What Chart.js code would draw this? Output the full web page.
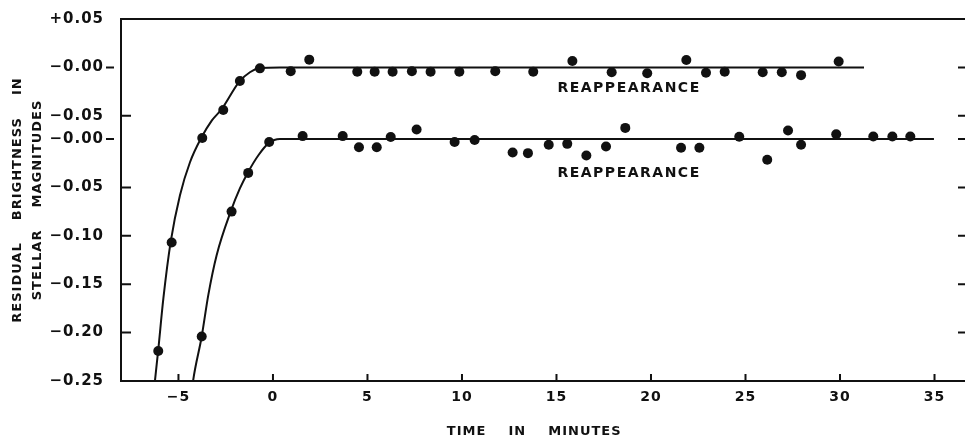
<!DOCTYPE html>
<html>
<head>
<meta charset="utf-8">
<script src="https://cdn.jsdelivr.net/npm/chart.js@4.4.1/dist/chart.umd.min.js"></script>
<style>
  body { margin: 0; background: #fff; }
</style>
</head>
<body>
<canvas id="myChart" width="965" height="438"></canvas>
<script>
// upper run (own scale, drawn shifted up by upperShift)
const upperTime = [-6.07, -5.36, -3.74, -2.63, -1.75, -0.69, 0.94, 1.92, 4.46, 5.38, 6.33, 7.35, 8.34, 9.86, 11.76, 13.77, 15.84, 17.92, 19.80, 21.87, 22.91, 23.90, 25.91, 26.92, 27.94, 29.93];
const upperMag = [-0.293, -0.181, -0.073, -0.044, -0.014, -0.001, -0.004, 0.008, -0.0045, -0.0045, -0.0045, -0.004, -0.0045, -0.0045, -0.004, -0.0045, 0.0066, -0.005, -0.006, 0.0076, -0.0055, -0.0045, -0.005, -0.005, -0.008, 0.006];
const upperFitTime = [-6.35, -6.24, -6.07, -5.80, -5.41, -4.92, -4.39, -3.77, -3.24, -2.71, -1.78, -1.22, -0.69, 0.37, 31.27];
const upperFitMag = [-0.345, -0.323, -0.292, -0.239, -0.180, -0.132, -0.098, -0.072, -0.055, -0.043, -0.0147, -0.005, -0.0006, 0, 0];
const upperShift = 0.074;

// lower run
const lowerTime = [-3.77, -2.19, -1.31, -0.20, 1.57, 3.69, 4.55, 5.49, 6.23, 7.60, 9.61, 10.67, 12.68, 13.49, 14.59, 15.57, 16.58, 17.62, 18.64, 21.59, 22.56, 24.67, 26.15, 27.25, 27.94, 29.80, 31.76, 32.77, 33.72];
const lowerMag = [-0.204, -0.075, -0.035, -0.003, 0.003, 0.003, -0.0085, -0.0085, 0.002, 0.0098, -0.003, -0.001, -0.014, -0.0146, -0.006, -0.005, -0.017, -0.0077, 0.0115, -0.009, -0.009, 0.0023, -0.0214, 0.0088, -0.006, 0.005, 0.0026, 0.0026, 0.0026];
const lowerFitTime = [-4.35, -4.22, -3.77, -3.42, -2.98, -2.22, -1.75, -1.31, -0.78, -0.21, 0.37, 34.97];
const lowerFitMag = [-0.27, -0.249, -0.204, -0.161, -0.120, -0.074, -0.051, -0.034, -0.017, -0.004, 0, 0];

const yTickValues = [0.124, 0.074, 0.024, 0, -0.05, -0.10, -0.15, -0.20, -0.25];
const yTickLabels = ['+0.05', '\u22120.00', '\u22120.05', '\u22120.00', '\u22120.05', '\u22120.10', '\u22120.15', '\u22120.20', '\u22120.25'];
const yDashTicks = [0.074, 0];
const xTickValues = [-5, 0, 5, 10, 15, 20, 25, 30, 35];
const xTickLabels = ['\u22125', '0', '5', '10', '15', '20', '25', '30', '35'];
const seriesLabel = 'REAPPEARANCE';

const ink = '#111';
const font = 'DejaVu Sans';

const pts = (xs, ys, shift) => xs.map((x, i) => ({x: x, y: ys[i] + shift}));

const frame = {
  id: 'frame',
  beforeDraw(chart) {
    chart.ctx.letterSpacing = '1px';
  },
  afterDatasetsDraw(chart) {
    const {ctx, chartArea: a, scales: {x, y}} = chart;
    ctx.save();
    ctx.strokeStyle = ink;
    ctx.lineWidth = 2;
    ctx.beginPath();
    ctx.moveTo(a.left, a.top);
    ctx.lineTo(a.right + 2, a.top);
    y.ticks.forEach(t => {
      const py = y.getPixelForValue(t.value);
      if (yDashTicks.includes(t.value)) {
        ctx.moveTo(a.left - 15, py); ctx.lineTo(a.left - 7, py);
      } else if (t.value > -0.25 && t.value < 0.12) {
        ctx.moveTo(a.left, py); ctx.lineTo(a.left + 10, py);
      }
      ctx.moveTo(a.right + 1, py); ctx.lineTo(a.right - 6, py);
    });
    x.ticks.forEach(t => {
      const px = x.getPixelForValue(t.value);
      ctx.moveTo(px, a.bottom); ctx.lineTo(px, a.bottom - 7);
    });
    ctx.stroke();

    ctx.fillStyle = ink;
    ctx.font = 'bold 14px ' + font;
    ctx.letterSpacing = '1.5px';
    ctx.textAlign = 'center';
    ctx.textBaseline = 'middle';
    ctx.fillText(seriesLabel, x.getPixelForValue(18.84), y.getPixelForValue(upperShift - 0.022));
    ctx.fillText(seriesLabel, x.getPixelForValue(18.84), y.getPixelForValue(-0.0356));
    ctx.restore();
  }
};

const chart1 = document.getElementById('myChart').getContext('2d');

const myChart = new Chart(chart1, {
  type: 'scatter',
  data: {
    datasets: [{
      data: pts(upperFitTime, upperFitMag, upperShift),
      showLine: true,
      cubicInterpolationMode: 'monotone',
      borderColor: ink,
      borderWidth: 2,
      pointRadius: 0
    }, {
      data: pts(lowerFitTime, lowerFitMag, 0),
      showLine: true,
      cubicInterpolationMode: 'monotone',
      borderColor: ink,
      borderWidth: 2,
      pointRadius: 0
    }, {
      data: pts(upperTime, upperMag, upperShift),
      backgroundColor: ink,
      borderWidth: 0,
      pointRadius: 5
    }, {
      data: pts(lowerTime, lowerMag, 0),
      backgroundColor: ink,
      borderWidth: 0,
      pointRadius: 5
    }]
  },
  options: {
    responsive: false,
    animation: false,
    devicePixelRatio: 1,
    layout: { autoPadding: false, padding: { top: 19, right: 1, bottom: 0, left: 0 } },
    plugins: {
      legend: { display: false },
      tooltip: { enabled: false }
    },
    scales: {
      x: {
        type: 'linear',
        min: -8.04,
        max: 36.56,
        afterBuildTicks: s => { s.ticks = xTickValues.map(v => ({value: v})); },
        afterFit: s => { s.height = 57; },
        grid: { display: false },
        border: { display: true, color: ink, width: 2 },
        ticks: {
          autoSkip: false,
          maxRotation: 0,
          padding: 0,
          color: ink,
          font: { family: font, size: 14, weight: 'bold' },
          callback: (v, i) => xTickLabels[i]
        },
        title: {
          display: true,
          text: 'TIME    IN    MINUTES   ',
          color: ink,
          padding: { top: 0, bottom: 0 },
          font: { family: font, size: 13, weight: 'bold', lineHeight: 1 }
        }
      },
      y: {
        min: -0.25,
        max: 0.124,
        afterBuildTicks: s => { s.ticks = yTickValues.map(v => ({value: v})); },
        afterFit: s => { s.width = 121; },
        grid: { display: false },
        border: { display: true, color: ink, width: 2 },
        ticks: {
          autoSkip: false,
          padding: 9,
          color: ink,
          font: { family: font, size: 15, weight: 'bold' },
          callback: (v, i) => yTickLabels[i]
        },
        title: {
          display: true,
          text: ['RESIDUAL    BRIGHTNESS    IN', 'STELLAR    MAGNITUDES'],
          color: ink,
          padding: { top: 8, bottom: 0 },
          font: { family: font, size: 13, weight: 'bold', lineHeight: 1.54 }
        }
      }
    }
  },
  plugins: [frame]
});
</script>
</body>
</html>
